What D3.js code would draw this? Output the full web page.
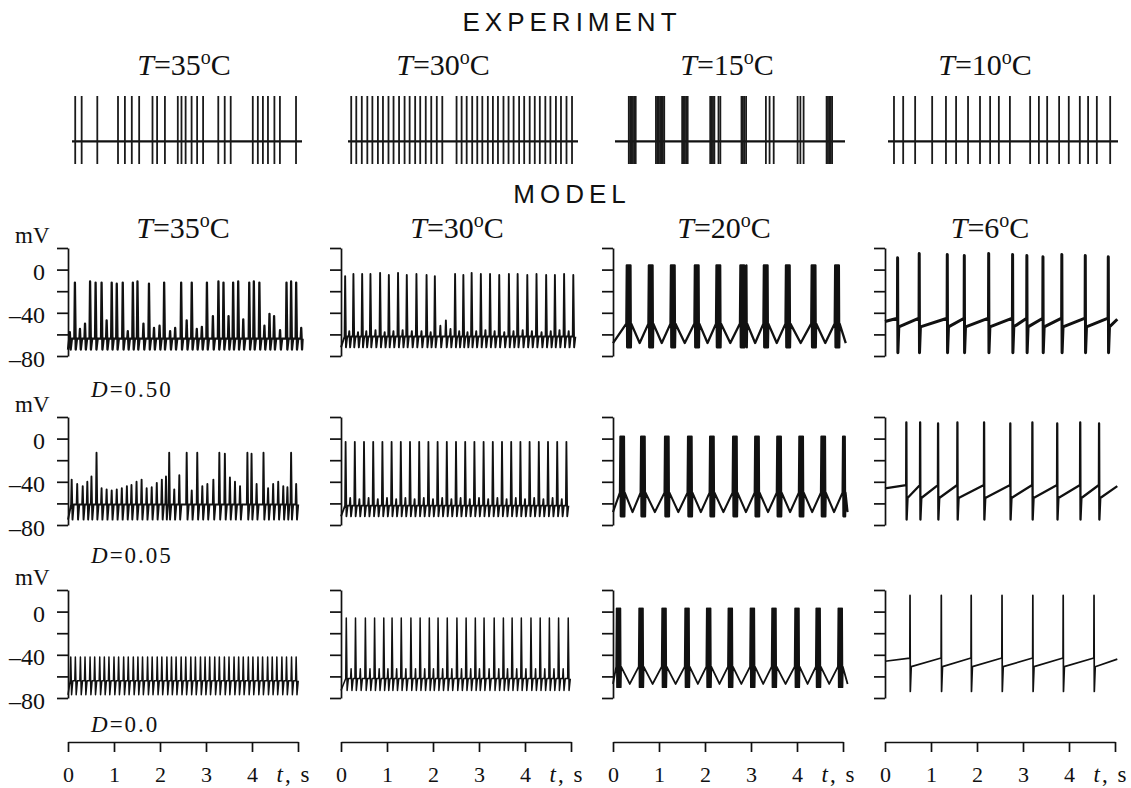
<!DOCTYPE html>
<html lang="en">
<head>
<meta charset="UTF-8">
<title>Experiment vs model: spike trains at different temperatures</title>
<script src="https://d3js.org/d3.v7.min.js"></script>
<style>
  html, body { margin: 0; padding: 0; background: #fff; }
  svg { display: block; }
  .serif { font-family: "Liberation Serif", "Times New Roman", serif; fill: #111; }
  .sans { font-family: "Liberation Sans", Arial, sans-serif; fill: #111; }
  .trace { fill: none; stroke: #111; stroke-linejoin: round; }
  .axis path, .axis line { stroke: #111; stroke-width: 1.7; }
  .axis text { font-family: "Liberation Serif", "Times New Roman", serif; font-size: 22px; fill: #111; }
</style>
</head>
<body>
<div id="chart"></div>
<script>
// ---------- Data ----------
const expTemps = ["35", "30", "15", "10"];
const modelTemps = ["35", "30", "20", "6"];
const noiseLabels = ["0.50", "0.05", "0.0"];
const timeTicks = [0, 1, 2, 3, 4, 5];
const mvTicks = [20, 0, -20, -40, -60, -80];
const mvLabels = [0, -40, -80];

// experiment: spike times, s
const expSpikes35 = [0.07,0.21,0.55,1.00,1.15,1.30,1.46,1.75,1.85,2.02,2.30,2.38,2.47,2.60,2.72,2.85,3.18,3.32,3.45,3.93,4.04,4.15,4.26,4.40,4.52,4.87];
const expSpikes30 = [0.07,0.18,0.30,0.42,0.53,0.65,0.76,0.88,0.99,1.11,1.23,1.34,1.46,1.57,1.69,1.81,1.93,2.05,2.36,2.47,2.58,2.70,2.81,2.92,3.04,3.15,3.26,3.38,3.49,3.60,3.72,3.83,3.95,4.06,4.17,4.29,4.40,4.52,4.63,4.75,4.87];
const expBursts15 = [[0.30,0.33,0.36,0.39,0.42,0.45],[0.89,0.92,0.95,0.98,1.01,1.04,1.07],[1.46,1.49,1.52,1.55,1.58],[2.07,2.10,2.13,2.16,2.25,2.29],[2.75,2.78,2.81,2.85],[3.28,3.36,3.45],[3.97,4.03,4.10],[4.60,4.63,4.66,4.69,4.72]];
const expSpikes10 = [0.13,0.33,0.59,0.96,1.26,1.48,1.74,2.00,2.22,2.41,2.65,3.09,3.28,3.46,3.72,3.93,4.17,4.35,4.54,4.83];

// model, column 1 (T=35): [time s, peak mV] of every oscillation / spike
const m35d50 = [[0.04,-58],[0.15,-12],[0.26,-55],[0.37,-50],[0.48,-11],[0.60,-12],[0.73,-12],[0.84,-47],[0.95,-12],[1.06,-13],[1.19,-12],[1.30,-57],[1.41,-12],[1.51,-11],[1.64,-50],[1.76,-13],[1.87,-54],[1.99,-52],[2.09,-12],[2.22,-57],[2.33,-54],[2.46,-12],[2.58,-47],[2.69,-12],[2.80,-55],[2.91,-53],[3.02,-12],[3.15,-43],[3.27,-11],[3.38,-12],[3.49,-43],[3.59,-12],[3.70,-11],[3.81,-46],[3.94,-12],[4.04,-11],[4.16,-12],[4.27,-52],[4.38,-41],[4.48,-43],[4.61,-56],[4.75,-12],[4.85,-11],[4.96,-12],[5.07,-54]];
const m35d05 = [[0.08,-38],[0.20,-42],[0.32,-44],[0.42,-40],[0.51,-35],[0.62,-13],[0.73,-46],[0.84,-47],[0.95,-48],[1.06,-47],[1.17,-46],[1.28,-44],[1.38,-43],[1.49,-40],[1.60,-38],[1.71,-46],[1.82,-45],[1.93,-41],[2.04,-38],[2.13,-35],[2.20,-13],[2.31,-47],[2.42,-34],[2.58,-13],[2.69,-48],[2.81,-13],[2.92,-44],[3.03,-42],[3.16,-38],[3.29,-13],[3.41,-14],[3.52,-36],[3.63,-40],[3.74,-44],[3.90,-13],[3.99,-14],[4.10,-42],[4.25,-13],[4.35,-46],[4.46,-42],[4.57,-40],[4.68,-44],[4.77,-45],[4.85,-13],[4.96,-42]];
const m35d0 = [[0.06,-42],[0.16,-42],[0.27,-42],[0.37,-42],[0.48,-42],[0.58,-42],[0.69,-42],[0.79,-42],[0.89,-42],[1.00,-42],[1.10,-42],[1.21,-42],[1.31,-42],[1.42,-42],[1.52,-42],[1.62,-42],[1.73,-42],[1.83,-42],[1.94,-42],[2.04,-42],[2.15,-42],[2.25,-42],[2.35,-42],[2.46,-42],[2.56,-42],[2.67,-42],[2.77,-42],[2.88,-42],[2.98,-42],[3.08,-42],[3.19,-42],[3.29,-42],[3.40,-42],[3.50,-42],[3.61,-42],[3.71,-42],[3.81,-42],[3.92,-42],[4.02,-42],[4.13,-42],[4.23,-42],[4.34,-42],[4.44,-42],[4.54,-42],[4.65,-42],[4.75,-42],[4.86,-42],[4.96,-42]];

// model, column 2 (T=30): spikes and after-humps, [time s, peak mV]
const m30d50 = [[0.09,-6],[0.18,-57],[0.27,-4],[0.37,-58],[0.46,-4],[0.55,-57],[0.64,-4],[0.75,-56],[0.85,-3],[0.95,-58],[1.04,-5],[1.14,-57],[1.24,-3],[1.34,-56],[1.43,-5],[1.54,-57],[1.64,-4],[1.75,-57],[1.86,-5],[1.95,-58],[2.04,-6],[2.16,-52],[2.28,-47],[2.38,-55],[2.48,-4],[2.57,-57],[2.66,-5],[2.75,-58],[2.84,-3],[2.94,-57],[3.04,-4],[3.14,-56],[3.24,-4],[3.34,-57],[3.44,-5],[3.55,-58],[3.65,-4],[3.75,-57],[3.84,-4],[3.95,-56],[4.05,-5],[4.15,-57],[4.25,-4],[4.36,-58],[4.46,-5],[4.56,-57],[4.65,-5],[4.75,-56],[4.85,-4],[4.95,-57],[5.05,-5]];
const m30d05 = [[0.10,-3],[0.20,-55],[0.30,-3],[0.40,-56],[0.50,-3],[0.60,-55],[0.70,-3],[0.80,-56],[0.90,-3],[1.00,-55],[1.10,-3],[1.20,-56],[1.30,-3],[1.40,-55],[1.50,-3],[1.60,-56],[1.70,-3],[1.80,-55],[1.90,-3],[2.00,-56],[2.10,-3],[2.20,-55],[2.30,-3],[2.40,-56],[2.50,-3],[2.60,-55],[2.70,-3],[2.80,-56],[2.90,-3],[3.00,-55],[3.10,-3],[3.20,-56],[3.30,-3],[3.40,-55],[3.50,-3],[3.60,-56],[3.70,-3],[3.80,-55],[3.90,-3],[4.00,-56],[4.10,-3],[4.20,-55],[4.30,-3],[4.40,-56],[4.50,-3],[4.60,-55],[4.70,-3],[4.80,-56],[4.90,-3]];
const m30d0 = [[0.115,-6],[0.22,-53],[0.315,-6],[0.42,-53],[0.53,-6],[0.63,-53],[0.73,-6],[0.83,-53],[0.93,-6],[1.02,-53],[1.11,-6],[1.21,-53],[1.31,-6],[1.41,-53],[1.52,-6],[1.62,-53],[1.72,-6],[1.82,-53],[1.92,-6],[2.01,-53],[2.11,-6],[2.21,-53],[2.31,-6],[2.41,-53],[2.52,-6],[2.62,-53],[2.72,-6],[2.82,-53],[2.92,-6],[3.01,-53],[3.11,-6],[3.22,-53],[3.33,-6],[3.43,-53],[3.53,-6],[3.62,-53],[3.72,-6],[3.82,-53],[3.92,-6],[4.02,-53],[4.13,-6],[4.23,-53],[4.33,-6],[4.43,-53],[4.53,-6],[4.63,-53],[4.73,-6],[4.83,-53],[4.94,-6]];

// model, column 3 (T=20): spike times inside each burst, s
const m20d50 = [[0.30,0.32,0.34,0.36,0.38],[0.78,0.80,0.82,0.84,0.86],[1.26,1.28,1.30,1.32,1.34],[1.78,1.80,1.82,1.84,1.86],[2.25,2.27,2.29,2.31,2.33],[2.77,2.79,2.81,2.83,2.85,2.90],[3.28,3.30,3.32,3.34,3.36],[3.76,3.78,3.80,3.82,3.84],[4.32,4.34,4.36,4.38,4.40],[4.83,4.85,4.87,4.89,4.91]];
const m20d05 = [[0.16,0.18,0.20,0.22,0.24],[0.61,0.63,0.65,0.67,0.69],[1.13,1.15,1.17,1.19,1.21],[1.63,1.65,1.67,1.69,1.71],[2.11,2.13,2.15,2.17,2.19],[2.61,2.63,2.65,2.67,2.69],[3.09,3.11,3.13,3.15,3.17],[3.57,3.59,3.61,3.63,3.65],[4.05,4.07,4.09,4.11,4.13],[4.53,4.55,4.57,4.59,4.61],[5.00,5.02,5.04]];
const m20d0 = [[0.08,0.10,0.12,0.14,0.16],[0.57,0.59,0.61,0.63,0.65],[1.07,1.09,1.11,1.13,1.15],[1.57,1.59,1.61,1.63,1.65],[2.04,2.06,2.08,2.10,2.12],[2.51,2.53,2.55,2.57,2.59],[2.99,3.01,3.03,3.05,3.07],[3.46,3.48,3.50,3.52,3.54],[3.96,3.98,4.00,4.02,4.04],[4.42,4.44,4.46,4.48,4.50],[4.90,4.92,4.94,4.96,4.98]];

// model, column 4 (T=6): spike times, s, and spike peaks, mV
const m6d50 = [0.27,0.74,1.35,1.72,2.25,2.77,3.08,3.43,3.84,4.35,4.85];
const m6d50Peaks = [11,15,14,13,15,14,13,12,14,13,12];
const m6d05 = [0.46,0.76,1.15,1.57,2.15,2.72,3.20,3.74,4.24,4.65];
const m6d05Peaks = [15,15,14,15,15,14,15,14,15,14];
const m6d0 = [0.54,1.22,1.87,2.54,3.21,3.87,4.54];
const m6d0Peaks = [15,15,15,15,15,15,15];

// membrane levels per row (D=0.50, 0.05, 0.0), mV
const c1Lead = [-64, -61, -64];
const c1Trough = [-74, -75, -77];
const c2Lead = [-62, -62, -62];
const c2Trough = [-72, -72, -73];
const c3Base = [-68, -68, -67];
const c3Top = [-50, -50, -51];
const c3Peak = [4, 2, 3];
const c3Low = [-72, -72, -70];
const c4Pre = [-45, -43, -43];
const c4Post = [-53, -55, -51];
const c4Under = [-77, -75, -74];

// ---------- Layout ----------
const width = 1131, height = 788;
const colX = [68, 341, 613, 885];   // left edge (y axis) of each model column
const colW = 230;                   // 5 s
const rowTop = [248, 417, 590];
const rowH = 108;
const expX = [72, 348, 615, 888];
const axisY = 742;

const svg = d3.select('#chart').append('svg')
  .attr('width', width)
  .attr('height', height);

// headings
svg.append('text').attr('class', 'sans')
  .attr('x', 572).attr('y', 31)
  .attr('text-anchor', 'middle')
  .style('font-size', '26px').style('letter-spacing', '5px')
  .text('EXPERIMENT');
svg.append('text').attr('class', 'sans')
  .attr('x', 572).attr('y', 203)
  .attr('text-anchor', 'middle')
  .style('font-size', '26px').style('letter-spacing', '5px')
  .text('MODEL');

// "T=35°C" style label
function tempLabel(cx, y, temp) {
  const t = svg.append('text').attr('class', 'serif')
    .attr('x', cx).attr('y', y)
    .attr('text-anchor', 'middle')
    .style('font-size', '30px');
  t.append('tspan').style('font-style', 'italic').text('T');
  t.append('tspan').text('=' + temp);
  t.append('tspan').attr('dy', -11).style('font-size', '20px').text('o');
  t.append('tspan').attr('dy', 11).text('C');
}
const expCenters = [184, 443, 727, 985];
const modelCenters = [183, 457, 724, 990];
expTemps.forEach((tp, i) => tempLabel(expCenters[i], 75, tp));
modelTemps.forEach((tp, i) => tempLabel(modelCenters[i], 238, tp));

// ---------- Experiment spike trains ----------
const yExp = d3.scaleLinear().domain([-0.5, 1]).range([164, 96]);
const expTrains = [expSpikes35, expSpikes30, expBursts15.flat(), expSpikes10];
expTrains.forEach((spikes, i) => {
  const x = d3.scaleLinear().domain([0, 5]).range([expX[i], expX[i] + colW]);
  const g = svg.append('g');
  g.append('line')
    .attr('x1', x(0)).attr('x2', x(5))
    .attr('y1', yExp(0)).attr('y2', yExp(0))
    .attr('stroke', '#111').attr('stroke-width', 2.2);
  g.selectAll('line.spk').data(spikes).enter()
    .append('line').attr('class', 'spk')
    .attr('x1', d => x(d)).attr('x2', d => x(d))
    .attr('y1', yExp(-0.5)).attr('y2', yExp(1))
    .attr('stroke', '#1a1a1a').attr('stroke-width', 1.8);
});

// ---------- Model trace builders ----------
function oscPoints(events, lead, trough) {
  const pts = [[0, trough]];
  events.forEach(([t, p]) => {
    pts.push([t - 0.012, lead], [t, p], [t + 0.018, trough], [t + 0.045, lead]);
  });
  return pts;
}

function burstPoints(bursts, r) {
  const pts = [[0, c3Base[r]]];
  bursts.forEach((b, i) => {
    if (i > 0) {
      const prev = bursts[i - 1];
      pts.push([(prev[prev.length - 1] + b[0]) / 2, c3Base[r]]);
    }
    pts.push([b[0] - 0.01, c3Top[r]]);
    b.forEach(s => pts.push([s, c3Peak[r]], [s + 0.008, c3Low[r]], [s + 0.016, c3Top[r]]));
  });
  const last = bursts[bursts.length - 1];
  pts.push([last[last.length - 1] + 0.15, c3Base[r]]);
  return pts;
}

function rampPoints(spikes, peaks, r) {
  const pts = [[0, c4Pre[r] - 3]];
  spikes.forEach((t, i) => {
    pts.push([t, c4Pre[r]], [t + 0.004, peaks[i]], [t + 0.01, c4Under[r]], [t + 0.03, c4Post[r]]);
  });
  pts.push([5.05, c4Pre[r] - 1]);
  return pts;
}

const panels = [
  [oscPoints(m35d50, c1Lead[0], c1Trough[0]), oscPoints(m30d50, c2Lead[0], c2Trough[0]), burstPoints(m20d50, 0), rampPoints(m6d50, m6d50Peaks, 0)],
  [oscPoints(m35d05, c1Lead[1], c1Trough[1]), oscPoints(m30d05, c2Lead[1], c2Trough[1]), burstPoints(m20d05, 1), rampPoints(m6d05, m6d05Peaks, 1)],
  [oscPoints(m35d0, c1Lead[2], c1Trough[2]), oscPoints(m30d0, c2Lead[2], c2Trough[2]), burstPoints(m20d0, 2), rampPoints(m6d0, m6d0Peaks, 2)]
];
const strokeW = [[2.3, 1.9, 2.3, 3.0], [1.9, 1.8, 2.1, 2.3], [1.5, 1.5, 1.8, 1.7]];

// ---------- Model panels ----------
panels.forEach((row, r) => {
  const y = d3.scaleLinear().domain([-80, 20]).range([rowTop[r] + rowH, rowTop[r]]);
  row.forEach((pts, c) => {
    const x = d3.scaleLinear().domain([0, 5]).range([colX[c], colX[c] + colW]);
    const line = d3.line()
      .x(d => x(Math.max(0, Math.min(5.1, d[0]))))
      .y(d => y(d[1]));

    // y axis (bracket with ticks)
    const yAxis = d3.axisLeft(y)
      .tickValues(mvTicks)
      .tickSize(11)
      .tickSizeOuter(0)
      .tickPadding(12)
      .tickFormat(d => (c === 0 && mvLabels.includes(d)) ? (d < 0 ? '\u2013' + (-d) : d) : '');
    const ga = svg.append('g')
      .attr('class', 'axis')
      .attr('transform', `translate(${colX[c]},0)`)
      .call(yAxis);
    ga.selectAll('text').attr('dy', '0.42em').style('font-size', '24px');

    svg.append('path')
      .attr('class', 'trace')
      .attr('d', line(pts))
      .attr('stroke-width', strokeW[r][c]);
  });

  // mV unit and noise label
  svg.append('text').attr('class', 'serif')
    .attr('x', 15).attr('y', rowTop[r] - 5)
    .style('font-size', '23px')
    .text('mV');
  const dl = svg.append('text').attr('class', 'serif')
    .attr('x', 91).attr('y', [397, 563, 732][r])
    .style('font-size', '23px').style('letter-spacing', '2px');
  dl.append('tspan').style('font-style', 'italic').text('D');
  dl.append('tspan').text('=' + noiseLabels[r]);
});

// ---------- Time axes ----------
colX.forEach((x0, c) => {
  const x = d3.scaleLinear().domain([0, 5]).range([x0, x0 + colW]);
  const xAxis = d3.axisBottom(x)
    .tickValues(timeTicks)
    .tickSize(10)
    .tickSizeOuter(0)
    .tickPadding(14)
    .tickFormat(d => d === 5 ? '' : d);
  svg.append('g')
    .attr('class', 'axis')
    .attr('transform', `translate(0,${axisY})`)
    .call(xAxis);
  const lab = svg.append('text').attr('class', 'serif')
    .attr('x', x(5) - 4).attr('y', axisY + 40)
    .attr('text-anchor', 'middle')
    .style('font-size', '23px').style('letter-spacing', '2px');
  lab.append('tspan').style('font-style', 'italic').text('t');
  lab.append('tspan').text(', s');
});
</script>
</body>
</html>
